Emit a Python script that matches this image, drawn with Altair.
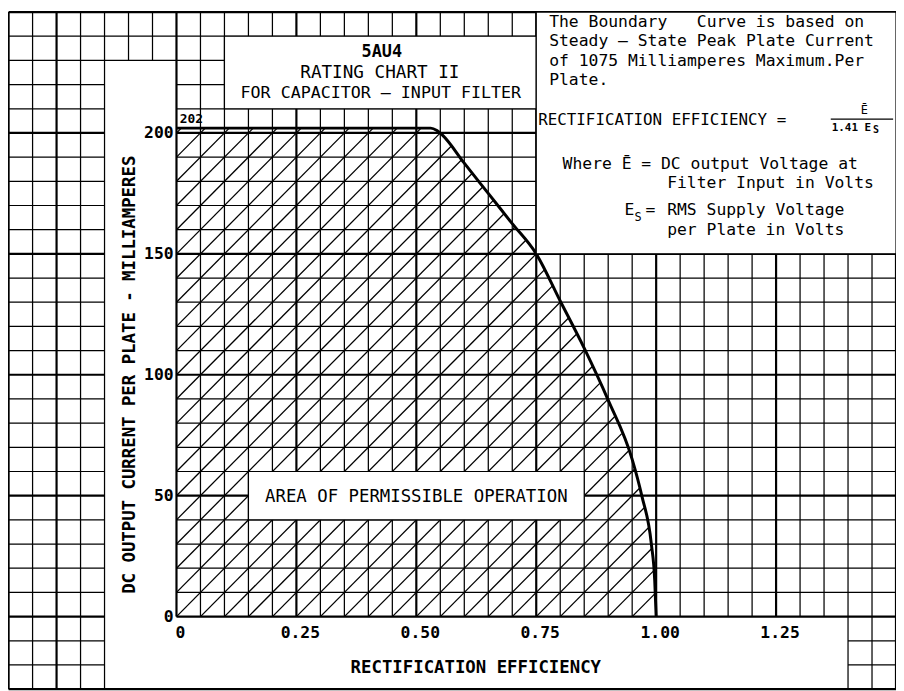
import numpy as np
import pandas as pd
import altair as alt

# ---------------- data ----------------
curve_eff = [0.0, 0.53, 0.543, 0.555, 0.60, 0.65, 0.70, 0.75, 0.80, 0.85, 0.90, 0.95, 0.97, 0.99, 0.997, 1.0]
curve_ma = [202, 202, 201, 199, 187.5, 175, 162.5, 150, 130.5, 111, 89.5, 65, 50, 30, 15, 0]

x_ticks = [0, 0.25, 0.5, 0.75, 1.0, 1.25]
y_ticks = [0, 50, 100, 150, 200]
x_title = "RECTIFICATION EFFICIENCY"
y_title = "DC OUTPUT CURRENT PER PLATE - MILLIAMPERES"

# graph paper extent (data units) and spacing
paper_x = [-0.35, 1.5]
paper_y = [-30, 250]
step_x = 0.05
step_y = 10

# white panels over the paper: (x, x2, y, y2)
title_box = [0.10, 0.75, 210, 240]
note_box = [0.75, 1.50, 150, 250]
area_box = [0.15, 0.85, 40, 60]
# paper left blank for the axes (open rectangles)
axis_strips = [[-0.15, 0.0, -30, 230], [-0.15, 1.40, -30, 0]]

MONO = "DejaVu Sans Mono"
NB = "\u00a0"

# ---------------- derived tables ----------------
def subtract(lo, hi, holes):
    segs = [(lo, hi)]
    for a, b in holes:
        out = []
        for s, e in segs:
            if b <= s or a >= e:
                out.append((s, e))
                continue
            if a > s:
                out.append((s, a))
            if b < e:
                out.append((b, e))
        segs = out
    return segs

def is_major(v, every, edges):
    return abs(v / every - round(v / every)) < 1e-6 or any(abs(v - e) < 1e-9 for e in edges)

vx = np.round(np.arange(paper_x[0], paper_x[1] + 1e-9, step_x), 4)
hy = np.round(np.arange(paper_y[0], paper_y[1] + 1e-9, step_y), 4)

vrows, hrows = [], []
for v in vx:
    holes = [(r[2], r[3]) for r in axis_strips if r[0] + 1e-9 < v < r[1] - 1e-9]
    for s, e in subtract(paper_y[0], paper_y[1], holes):
        vrows.append(dict(x=v, y=s, y2=e, major=is_major(v, 0.25, paper_x)))
for h in hy:
    holes = [(r[0], r[1]) for r in axis_strips if r[2] + 1e-9 < h < r[3] - 1e-9]
    for s, e in subtract(paper_x[0], paper_x[1], holes):
        hrows.append(dict(y=h, x=s, x2=e, major=is_major(h, 50, paper_y)))
vlines = pd.DataFrame(vrows)
hlines = pd.DataFrame(hrows)

curve = pd.DataFrame({"x": curve_eff, "y": curve_ma})

def f(x):
    return np.interp(x, curve_eff, curve_ma)

slope = step_y / step_x
rows = []
for k in range(-int(round(curve_ma[0] / step_y)) - 1, int(round(1.0 / step_x)) + 1):
    c = k * step_x
    x0 = max(c, 0.0)
    y0 = slope * (x0 - c)
    if y0 >= f(x0) - 1e-9:
        continue
    lo, hi = x0, 1.0
    for _ in range(60):
        mid = (lo + hi) / 2
        if slope * (mid - c) - f(mid) > 0:
            hi = mid
        else:
            lo = mid
    rows.append({"x": x0, "y": y0, "x2": lo, "y2": slope * (lo - c)})
hatch = pd.DataFrame(rows)

boxes = pd.DataFrame([dict(x=b[0], x2=b[1], y=b[2], y2=b[3]) for b in (title_box, note_box, area_box)])

# ---------------- scales ----------------
xs = alt.Scale(domain=[0, 1.5], nice=False, zero=False)
ys = alt.Scale(domain=[0, 250], nice=False, zero=False)

def X(f_, **kw):
    return alt.X(f_, type="quantitative", scale=xs, axis=None, **kw)

def Y(f_, **kw):
    return alt.Y(f_, type="quantitative", scale=ys, axis=None, **kw)

minor_v = alt.Chart(vlines).transform_filter("!datum.major").mark_rule(color="black", strokeWidth=1.25).encode(
    x=X("x"), y=Y("y"), y2="y2")
major_v = alt.Chart(vlines).transform_filter("datum.major").mark_rule(color="black", strokeWidth=2.2).encode(
    x=X("x"), y=Y("y"), y2="y2")
minor_h = alt.Chart(hlines).transform_filter("!datum.major").mark_rule(color="black", strokeWidth=1.25).encode(
    y=Y("y"), x=X("x"), x2="x2")
major_h = alt.Chart(hlines).transform_filter("datum.major").mark_rule(color="black", strokeWidth=2.2).encode(
    y=Y("y"), x=X("x"), x2="x2")

hatch_l = alt.Chart(hatch).mark_rule(color="black", strokeWidth=1.3).encode(
    x=X("x"), y=Y("y"), x2="x2", y2="y2")

curve_l = alt.Chart(curve).mark_line(color="black", strokeWidth=3, interpolate="monotone").encode(
    x=X("x"), y=Y("y"))

boxes_l = alt.Chart(boxes).mark_rect(fill="white", stroke="black", strokeWidth=1.2).encode(
    x=X("x"), x2="x2", y=Y("y"), y2="y2")

# ---------------- axis labels (through the scales) ----------------
xtick_df = pd.DataFrame({"v": x_ticks, "y": -6.6,
                         "t": ["0" if v == 0 else f"{v:.2f}" for v in x_ticks]})
ytick_df = pd.DataFrame({"v": y_ticks, "x": -0.006, "t": [str(v) for v in y_ticks]})

xtick_l = alt.Chart(xtick_df).mark_text(font=MONO, fontWeight="bold", fontSize=16.5, color="black",
                                        align="center", baseline="middle", dx=4).encode(
    x=X("v"), y=Y("y"), text="t:N")
ytick_l = alt.Chart(ytick_df).mark_text(font=MONO, fontWeight="bold", fontSize=16.5, color="black",
                                        align="right", baseline="middle").encode(
    x=X("x"), y=Y("v"), text="t:N")
xtitle_l = alt.Chart(pd.DataFrame([dict(x=0.624, y=-21.4, t=x_title)])).mark_text(
    font=MONO, fontWeight="bold", fontSize=17.5, color="black", align="center", baseline="middle").encode(
    x=X("x"), y=Y("y"), text="t:N")
ytitle_l = alt.Chart(pd.DataFrame([dict(x=-0.097, y=100, t=y_title)])).mark_text(
    font=MONO, fontWeight="bold", fontSize=17.5, color="black", align="center", baseline="middle",
    angle=270).encode(x=X("x"), y=Y("y"), text="t:N")

# ---------------- annotation text ----------------
notes_reg = pd.DataFrame([
    dict(x=0.777, y=245.9, t="The Boundary" + NB * 3 + "Curve is based on", s=16.5, a="left"),
    dict(x=0.777, y=237.9, t="Steady – State Peak Plate Current", s=16.5, a="left"),
    dict(x=0.777, y=229.9, t="of 1075 Milliamperes Maximum.Per", s=16.5, a="left"),
    dict(x=0.777, y=221.9, t="Plate.", s=16.5, a="left"),
    dict(x=0.754, y=205.3, t="RECTIFICATION EFFICIENCY =", s=16, a="left"),
    dict(x=1.434, y=209.4, t="Ē", s=12, a="center"),
    dict(x=0.805, y=187.3, t="Where Ē = DC output Voltage at", s=16.5, a="left"),
    dict(x=1.023, y=179.3, t="Filter Input in Volts", s=16.5, a="left"),
    dict(x=0.934, y=168.0, t="E", s=16.5, a="left"),
    dict(x=0.955, y=165.4, t="S", s=12, a="left"),
    dict(x=0.978, y=168.0, t="=", s=16.5, a="left"),
    dict(x=1.023, y=168.0, t="RMS Supply Voltage", s=16.5, a="left"),
    dict(x=1.023, y=160.0, t="per Plate in Volts", s=16.5, a="left"),
    dict(x=0.424, y=224.6, t="RATING CHART II", s=17.8, a="center"),
    dict(x=0.426, y=216.4, t="FOR CAPACITOR — INPUT FILTER", s=16.8, a="center"),
    dict(x=0.5, y=49.6, t="AREA OF PERMISSIBLE OPERATION", s=17.5, a="center"),
])
notes_bold = pd.DataFrame([
    dict(x=0.428, y=233.6, t="5AU4", s=17, a="center"),
    dict(x=0.007, y=205.6, t="202", s=13, a="left"),
    dict(x=1.366, y=202.0, t="1.41 E", s=11, a="left"),
    dict(x=1.452, y=201.2, t="S", s=10, a="left"),
])
frac_bar = pd.DataFrame([dict(x=1.364, x2=1.494, y=205.7)])

def text_layer(df, weight):
    layers = []
    for a in ("left", "center"):
        sub = df[df.a == a]
        if len(sub) == 0:
            continue
        layers.append(alt.Chart(sub).mark_text(font=MONO, fontWeight=weight, color="black",
                                               align=a, baseline="middle").encode(
            x=X("x"), y=Y("y"), text="t:N", size=alt.Size("s:Q", scale=None, legend=None)))
    return layers

bar_l = alt.Chart(frac_bar).mark_rule(color="black", strokeWidth=1.2).encode(x=X("x"), x2="x2", y=Y("y"))

chart = alt.layer(
    minor_v, minor_h, major_v, major_h, hatch_l, curve_l, boxes_l,
    xtick_l, ytick_l, xtitle_l, ytitle_l,
    *text_layer(notes_reg, "normal"), *text_layer(notes_bold, "bold"), bar_l
).properties(
    width=726, height=610,
    autosize=alt.AutoSizeParams(type="none"),
    padding={"left": 170, "top": 1, "right": 0, "bottom": 72},
    background="white",
).configure_view(stroke=None)

chart.save("out.html", embed_options={"renderer": "svg", "actions": False})
